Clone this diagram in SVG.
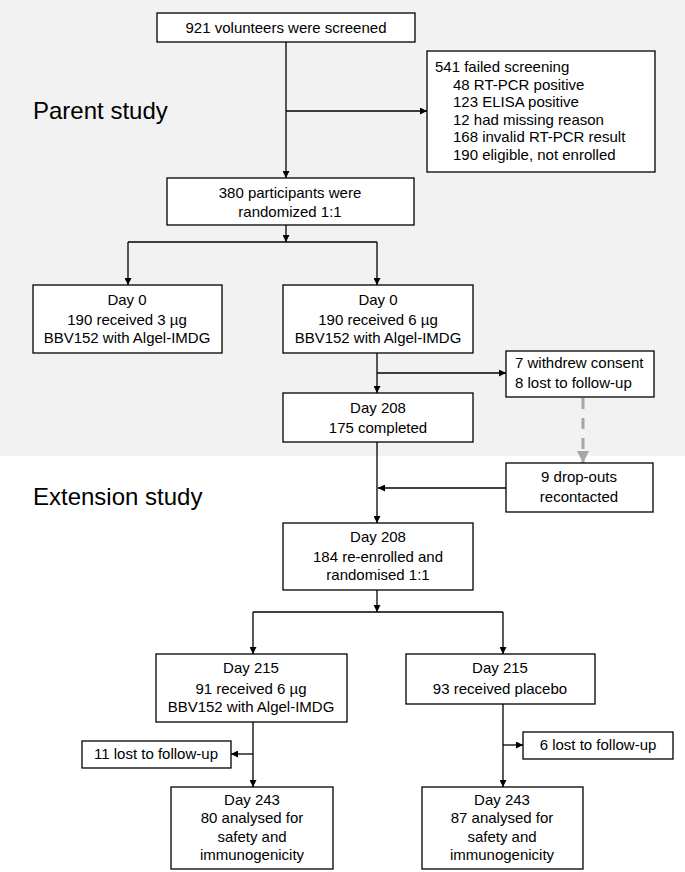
<svg xmlns="http://www.w3.org/2000/svg" width="685" height="872" viewBox="0 0 685 872">
<defs>
<marker id="ah" viewBox="0 0 10 10" refX="10" refY="5" markerWidth="7" markerHeight="7" markerUnits="userSpaceOnUse" orient="auto"><path d="M0,0 L10,5 L0,10 z" fill="#000"/></marker>
<marker id="ahg" viewBox="0 0 10 10" refX="10" refY="5" markerWidth="4" markerHeight="4" orient="auto"><path d="M0,0 L10,5 L0,10 z" fill="#a6a6a6"/></marker>
<style>
.box{fill:#fff;stroke:#000;stroke-width:1.3}
.t{font-family:"Liberation Sans",Arial,sans-serif;font-size:15px;fill:#000}
.c{text-anchor:middle}
.h{font-family:"Liberation Sans",Arial,sans-serif;font-size:24px;fill:#000}
.ln{fill:none;stroke:#000;stroke-width:1.3}
.arr{fill:none;stroke:#000;stroke-width:1.3;marker-end:url(#ah)}
.dash{fill:none;stroke:#a6a6a6;stroke-width:3;stroke-dasharray:11,9;marker-end:url(#ahg)}
</style>
</defs>
<rect x="0" y="0" width="685" height="456" fill="#f2f2f2"/>
<text class="h" x="33" y="119">Parent study</text>
<text class="h" x="33" y="505">Extension study</text>
<g id="connectors">
<path class="arr" d="M286,42 V178"/>
<path class="arr" d="M286,111 H427"/>
<path class="arr" d="M286,225 V242"/>
<path class="ln" d="M128,242 H377"/>
<path class="arr" d="M128,242 V285"/>
<path class="arr" d="M377,242 V285"/>
<path class="arr" d="M377,353 V393"/>
<path class="arr" d="M377,373 H506"/>
<path class="dash" d="M583,398 V463"/>
<path class="arr" d="M377,442 V523"/>
<path class="arr" d="M506,488 H378"/>
<path class="arr" d="M377,590 V612"/>
<path class="ln" d="M253,612 H503"/>
<path class="arr" d="M253,612 V654"/>
<path class="arr" d="M503,612 V654"/>
<path class="arr" d="M253,722 V787"/>
<path class="arr" d="M253,754 H231"/>
<path class="arr" d="M503,704 V787"/>
<path class="arr" d="M503,745 H523"/>
</g>
<g id="n921"><rect class="box" x="157" y="13" width="258" height="29"/><text class="t c" x="286" y="33">921 volunteers were screened</text></g>
<g id="n541"><rect class="box" x="427" y="51" width="228" height="121"/>
<text class="t" x="435" y="72">541 failed screening</text>
<text class="t" x="453" y="90">48 RT-PCR positive</text>
<text class="t" x="453" y="107">123 ELISA positive</text>
<text class="t" x="453" y="125">12 had missing reason</text>
<text class="t" x="453" y="142">168 invalid RT-PCR result</text>
<text class="t" x="453" y="160">190 eligible, not enrolled</text></g>
<g id="n380"><rect class="box" x="167" y="178" width="247" height="47"/><text class="t c" x="290" y="198">380 participants were</text><text class="t c" x="290" y="217">randomized 1:1</text></g>
<g id="d0a"><rect class="box" x="33" y="285" width="189" height="68"/><text class="t c" x="127" y="305">Day 0</text><text class="t c" x="127" y="325">190 received 3 µg</text><text class="t c" x="127" y="343">BBV152 with Algel-IMDG</text></g>
<g id="d0b"><rect class="box" x="283" y="285" width="190" height="68"/><text class="t c" x="378" y="305">Day 0</text><text class="t c" x="378" y="325">190 received 6 µg</text><text class="t c" x="378" y="343">BBV152 with Algel-IMDG</text></g>
<g id="wd"><rect class="box" x="506" y="351" width="148" height="46"/><text class="t" x="515" y="368">7 withdrew consent</text><text class="t" x="515" y="388">8 lost to follow-up</text></g>
<g id="d208a"><rect class="box" x="283" y="393" width="190" height="49"/><text class="t c" x="378" y="413">Day 208</text><text class="t c" x="378" y="433">175 completed</text></g>
<g id="drop"><rect class="box" x="506" y="463" width="147" height="49"/><text class="t c" x="579" y="482">9 drop-outs</text><text class="t c" x="579" y="502">recontacted</text></g>
<g id="d208b"><rect class="box" x="283" y="523" width="190" height="67"/><text class="t c" x="378" y="542">Day 208</text><text class="t c" x="378" y="562">184 re-enrolled and</text><text class="t c" x="378" y="580">randomised 1:1</text></g>
<g id="d215a"><rect class="box" x="156" y="654" width="191" height="68"/><text class="t c" x="251" y="673">Day 215</text><text class="t c" x="251" y="694">91 received 6 µg</text><text class="t c" x="251" y="712">BBV152 with Algel-IMDG</text></g>
<g id="d215b"><rect class="box" x="406" y="654" width="189" height="50"/><text class="t c" x="500" y="673">Day 215</text><text class="t c" x="500" y="694">93 received placebo</text></g>
<g id="l11"><rect class="box" x="82" y="741" width="149" height="27"/><text class="t c" x="156" y="759">11 lost to follow-up</text></g>
<g id="l6"><rect class="box" x="523" y="732" width="150" height="27"/><text class="t c" x="598" y="750">6 lost to follow-up</text></g>
<g id="d243a"><rect class="box" x="171" y="787" width="162" height="82"/><text class="t c" x="252" y="805">Day 243</text><text class="t c" x="252" y="823">80 analysed for</text><text class="t c" x="252" y="842">safety and</text><text class="t c" x="252" y="860">immunogenicity</text></g>
<g id="d243b"><rect class="box" x="422" y="787" width="161" height="82"/><text class="t c" x="502" y="805">Day 243</text><text class="t c" x="502" y="823">87 analysed for</text><text class="t c" x="502" y="842">safety and</text><text class="t c" x="502" y="860">immunogenicity</text></g>
</svg>
